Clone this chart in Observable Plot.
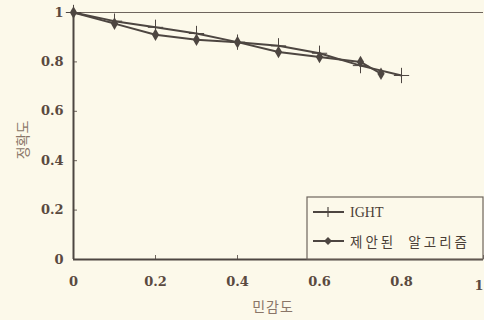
<!DOCTYPE html>
<html>
<head>
<meta charset="utf-8">
<script src="https://cdn.jsdelivr.net/npm/d3@7"></script>
<script src="https://cdn.jsdelivr.net/npm/@observablehq/plot@0.6"></script>
<style>
  html, body { margin: 0; padding: 0; background: #fcf9ea; }
  #chart { width: 484px; height: 320px; overflow: hidden; }
</style>
</head>
<body>
<div id="chart"></div>
<script>
// Data
const ightX = [0, 0.1, 0.2, 0.3, 0.4, 0.5, 0.6, 0.7, 0.8];
const ightY = [1.0, 0.965, 0.94, 0.915, 0.88, 0.865, 0.835, 0.785, 0.745];
const propX = [0, 0.1, 0.2, 0.3, 0.4, 0.5, 0.6, 0.7, 0.75];
const propY = [1.0, 0.955, 0.91, 0.89, 0.88, 0.84, 0.82, 0.80, 0.752];
const xTicks = [0, 0.2, 0.4, 0.6, 0.8, 1];
const yTicks = [0, 0.2, 0.4, 0.6, 0.8, 1];
const seriesNames = ["IGHT", "제안된  알고리즘"];
const xTitle = "민감도";
const yTitle = "정확도";

const ight = ightX.map((x, i) => ({x, y: ightY[i]}));
const prop = propX.map((x, i) => ({x, y: propY[i]}));

const ink = "#4d4641";
const frameInk = "#6e655d";
const textInk = "#5a4a40";
const tickFont = {fontFamily: "DejaVu Serif", fontWeight: "bold", fontSize: 13};

const plot = Plot.plot({
  width: 484,
  height: 320,
  marginLeft: 73,
  marginRight: 1,
  marginTop: 12,
  marginBottom: 61,
  style: {background: "transparent", color: textInk, overflow: "visible"},
  x: {domain: [0, 1]},
  y: {domain: [0, 1]},
  marks: [
    Plot.axisX({ticks: xTicks, tickFormat: d => d === 1 ? "" : String(d), tickSize: -4, tickPadding: 21, stroke: frameInk, label: null, ...tickFont, fill: textInk}),
    Plot.text([1], {x: d => d, frameAnchor: "bottom", dy: 30, text: d => String(d), textAnchor: "end", ...tickFont, fill: textInk}),
    Plot.axisY({ticks: yTicks, tickFormat: d => String(d), tickSize: -4, tickPadding: 14, stroke: frameInk, label: null, ...tickFont, fill: textInk}),
    Plot.ruleY([1], {stroke: frameInk, strokeWidth: 1.2}),
    Plot.ruleX([0], {stroke: ink, strokeWidth: 2}),
    Plot.ruleY([0], {stroke: ink, strokeWidth: 2}),
    Plot.line(ight, {x: "x", y: "y", stroke: ink, strokeWidth: 2}),
    Plot.line(prop, {x: "x", y: "y", stroke: ink, strokeWidth: 2}),
    Plot.dot(ight, {x: "x", y: "y", symbol: "plus", stroke: ink, strokeWidth: 1, r: 5}),
    Plot.dot(prop, {x: "x", y: "y", symbol: "diamond", fill: ink, r: 3.8})
  ]
});

document.getElementById("chart").appendChild(plot);

// Axis titles and legend
const svg = d3.select(plot);
svg.append("text")
  .attr("transform", "translate(22,140) rotate(-90)")
  .attr("text-anchor", "middle")
  .attr("dominant-baseline", "central")
  .attr("font-family", "Noto Sans CJK KR")
  .attr("font-size", 14)
  .attr("fill", "#8a7668")
  .text(yTitle);
svg.append("text")
  .attr("x", 273).attr("y", 306)
  .attr("text-anchor", "middle")
  .attr("dominant-baseline", "central")
  .attr("font-family", "Noto Sans CJK KR")
  .attr("font-size", 14)
  .attr("letter-spacing", 1)
  .attr("fill", "#8a7668")
  .text(xTitle);

const lg = svg.append("g");
lg.append("rect").attr("x", 307).attr("y", 197).attr("width", 176).attr("height", 62)
  .attr("fill", "#fcf9ea").attr("stroke", frameInk).attr("stroke-width", 1.2);
const rows = [212, 241];
rows.forEach((cy, i) => {
  lg.append("line").attr("x1", 313).attr("x2", 344).attr("y1", cy).attr("y2", cy)
    .attr("stroke", ink).attr("stroke-width", 2);
  if (i === 0) {
    lg.append("line").attr("x1", 328).attr("x2", 328).attr("y1", cy - 5).attr("y2", cy + 5)
      .attr("stroke", ink).attr("stroke-width", 1.2);
  } else {
    lg.append("path").attr("d", `M328,${cy-4}L332,${cy}L328,${cy+4}L324,${cy}Z`).attr("fill", ink);
  }
  lg.append("text").attr("x", 350).attr("y", cy)
    .attr("text-anchor", "start")
    .attr("dominant-baseline", "central")
    .attr("font-family", i === 0 ? "Liberation Serif" : "Noto Sans CJK KR")
    .attr("font-size", i === 0 ? 14 : 13.5)
    .attr("letter-spacing", i === 0 ? 0 : 3)
    .attr("xml:space", "preserve")
    .style("white-space", "pre")
    .attr("fill", "#4a3e36")
    .text(seriesNames[i]);
});
</script>
</body>
</html>
